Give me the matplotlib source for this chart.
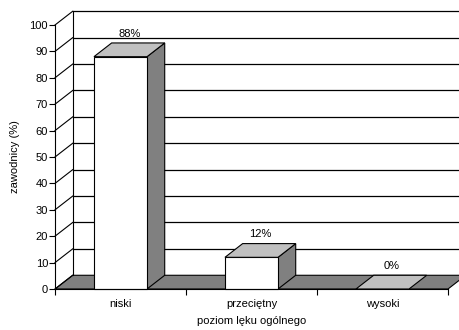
# poziom leku ogolnego - wykres slupkowy w stylu 3D

import matplotlib.pyplot as plt
from matplotlib.patches import Polygon

plt.rcParams['font.family'] = ['Liberation Sans', 'DejaVu Sans']

categories = ["niski", "przeciętny", "wysoki"]
values = [88, 12, 0]
yticks = [0, 10, 20, 30, 40, 50, 60, 70, 80, 90, 100]

# głębokość efektu 3D (w jednostkach danych)
dx = 0.135
dy = 5.2
bar_w = 0.405

fig = plt.figure(figsize=(4.6, 3.3), dpi=100)
ax = fig.add_axes([55 / 460, 41 / 330, 393 / 460, 264 / 330])
ax.set_xlim(0, len(categories))
ax.set_ylim(0, 100)

n = len(categories)
ymax = yticks[-1]

# podłoga
ax.add_patch(Polygon([(0, 0), (n, 0), (n + dx, dy), (dx, dy)], closed=True,
                     facecolor="#808080", edgecolor="black", lw=0.8,
                     clip_on=False, zorder=1))

# tylna ściana z siatką
ax.plot([dx, dx], [dy, ymax + dy], color="black", lw=0.8, clip_on=False, zorder=1)
for t in yticks[1:]:
    ax.plot([dx, n + dx], [t + dy, t + dy], color="black", lw=0.9,
            clip_on=False, zorder=1)
    # boczna ściana
    ax.plot([0, dx], [t, t + dy], color="black", lw=0.8, clip_on=False, zorder=1)
ax.plot([0, dx], [0, dy], color="black", lw=0.8, clip_on=False, zorder=1)

# słupki
for i, (cat, v) in enumerate(zip(categories, values)):
    x0 = i + 0.5 - bar_w / 2
    x1 = x0 + bar_w
    if v > 0:
        ax.add_patch(Polygon([(x1, 0), (x1 + dx, dy), (x1 + dx, v + dy), (x1, v)],
                             closed=True, facecolor="#808080", edgecolor="black",
                             lw=0.8, clip_on=False, zorder=3))
        ax.add_patch(Polygon([(x0, 0), (x1, 0), (x1, v), (x0, v)], closed=True,
                             facecolor="white", edgecolor="black", lw=0.8,
                             clip_on=False, zorder=3))
    ax.add_patch(Polygon([(x0, v), (x1, v), (x1 + dx, v + dy), (x0 + dx, v + dy)],
                         closed=True, facecolor="#c0c0c0", edgecolor="black",
                         lw=0.8, clip_on=False, zorder=3))
    ax.annotate(f"{v}%", (i + 0.5 + dx / 2, v + dy), xytext=(0, 3),
                textcoords="offset points", ha="center", va="bottom",
                fontsize=8, zorder=4)

for s in ["top", "right"]:
    ax.spines[s].set_visible(False)
ax.spines["left"].set_linewidth(0.8)
ax.spines["bottom"].set_linewidth(0.8)
ax.spines["left"].set_zorder(5)
ax.spines["bottom"].set_zorder(5)
ax.patch.set_visible(False)

ax.set_yticks(yticks)
ax.tick_params(axis="y", length=4, width=0.8, pad=1, labelsize=8)
ax.set_xticks(range(n + 1))
ax.set_xticklabels([])
ax.set_xticks([i + 0.5 for i in range(n)], minor=True)
ax.set_xticklabels(categories, minor=True)
ax.tick_params(axis="x", which="major", length=4, width=0.8, direction="out")
ax.tick_params(axis="x", which="minor", length=0, pad=7, labelsize=8)

ax.set_ylabel("zawodnicy (%)", fontsize=8, labelpad=7)
ax.set_xlabel("poziom lęku ogólnego", fontsize=8, labelpad=5)

fig.savefig("out.png", dpi=100)
